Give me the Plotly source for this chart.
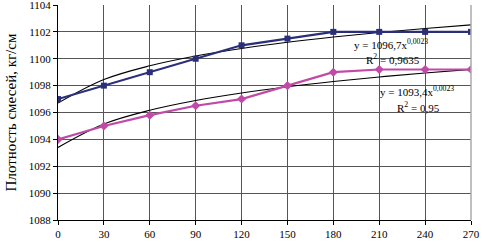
import plotly.graph_objects as go

x_vals = [0, 30, 60, 90, 120, 150, 180, 210, 240, 270]
blue_vals = [1097.0, 1098.0, 1099.0, 1100.0, 1101.0, 1101.5, 1102.0, 1102.0, 1102.0, 1102.0]
pink_vals = [1094.0, 1095.0, 1095.8, 1096.5, 1097.0, 1098.0, 1099.0, 1099.2, 1099.2, 1099.2]
# power trendlines y = a * n^b, n = 1..10 (category index), as shown on the chart
blue_a, blue_b = 1096.7, 0.0023
pink_a, pink_b = 1093.4, 0.0023
idx = list(range(1, len(x_vals) + 1))
blue_trend = [blue_a * n ** blue_b for n in idx]
pink_trend = [pink_a * n ** pink_b for n in idx]
y_ticks = [1088, 1090, 1092, 1094, 1096, 1098, 1100, 1102, 1104]

font = "Liberation Serif"
fig = go.Figure()
fig.add_trace(go.Scatter(x=x_vals, y=blue_trend, mode="lines", line=dict(color="black", width=1.1, shape="spline"), showlegend=False))
fig.add_trace(go.Scatter(x=x_vals, y=pink_trend, mode="lines", line=dict(color="black", width=1.1, shape="spline"), showlegend=False))
fig.add_trace(go.Scatter(x=x_vals, y=blue_vals, mode="lines+markers",
                         line=dict(color="#2b2f7a", width=2.2),
                         marker=dict(symbol="square", size=6, color="#2b2f7a"), showlegend=False))
fig.add_trace(go.Scatter(x=x_vals, y=pink_vals, mode="lines+markers",
                         line=dict(color="#c14aa6", width=2.2),
                         marker=dict(symbol="diamond", size=7, color="#c14aa6"), showlegend=False))

ann = dict(showarrow=False, font=dict(family=font, size=11, color="black"), xref="paper", yref="paper", xanchor="left")
fig.add_annotation(text="y = 1096,7x<sup>0,0023</sup>", x=0.712, y=0.86, **ann)
fig.add_annotation(text="R<sup>2</sup> = 0,9635", x=0.74, y=0.79, **ann)
fig.add_annotation(text="y = 1093,4x<sup>0,0023</sup>", x=0.775, y=0.60, **ann)
fig.add_annotation(text="R<sup>2</sup> = 0,95", x=0.816, y=0.525, **ann)

fig.update_layout(
    width=482, height=243,
    margin=dict(l=58, r=11, t=5, b=23),
    plot_bgcolor="white", paper_bgcolor="white",
    font=dict(family=font, size=11, color="black"),
)
fig.update_xaxes(range=[0, 270], tickvals=x_vals, ticktext=[str(v) for v in x_vals],
                 showgrid=True, gridcolor="#555555", gridwidth=0.8,
                 showline=True, linecolor="black", ticks="outside", ticklen=4, tickcolor="black",
                 tickfont=dict(family=font, size=11),
                 zeroline=False, automargin=False, ticklabeloverflow="allow")
fig.update_yaxes(range=[1088, 1104], tickvals=y_ticks, ticktext=[str(v) for v in y_ticks],
                 showgrid=True, gridcolor="#555555", gridwidth=0.8,
                 showline=True, linecolor="black", ticks="outside", ticklen=4, tickcolor="black",
                 tickfont=dict(family=font, size=11),
                 zeroline=False, automargin=False, ticklabeloverflow="allow",
                 title=dict(text="Плотность смесей, кг/см", font=dict(family=font, size=15), standoff=8))
fig.add_shape(type="line", xref="paper", yref="paper", x0=1, x1=1, y0=0, y1=1, line=dict(color="#aaaaaa", width=1.5))
fig.write_html("out.html", config={"displayModeBar": False},
               post_script="document.body.style.margin='0';document.body.style.padding='0';")
